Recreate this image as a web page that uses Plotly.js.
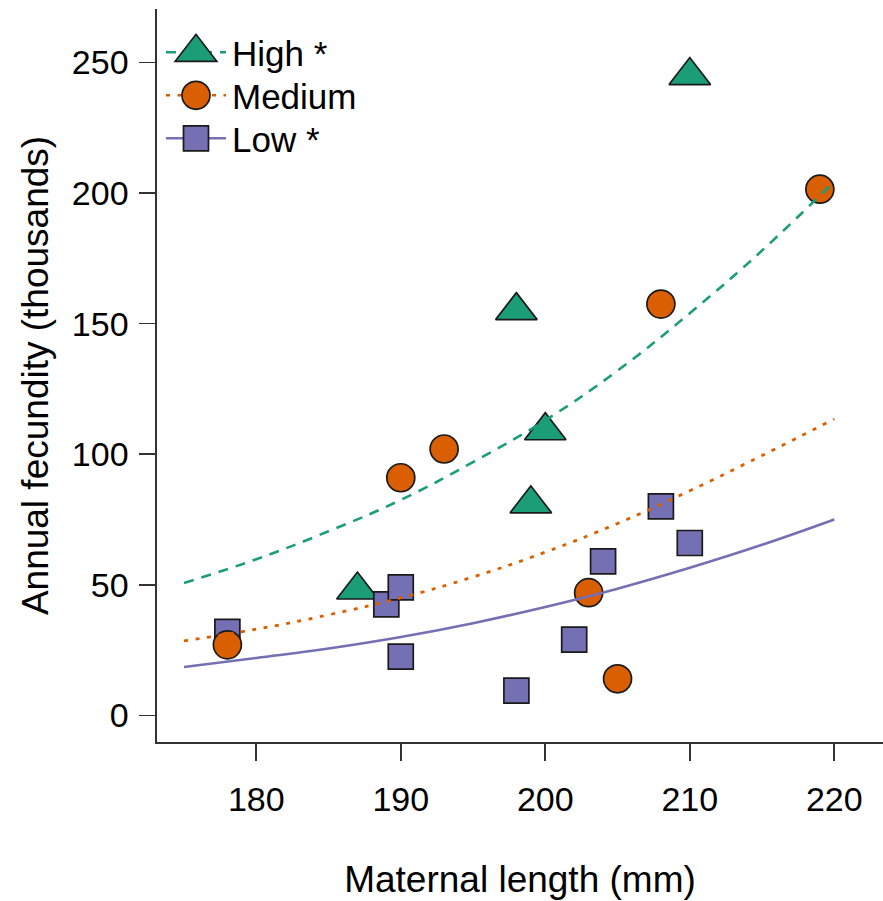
<!DOCTYPE html>
<html>
<head>
<meta charset="utf-8">
<script src="https://cdn.plot.ly/plotly-3.0.1.min.js"></script>
<style>
  html, body { margin: 0; padding: 0; background: #ffffff; }
  #chart { width: 883px; height: 901px; }
</style>
</head>
<body>
<div id="chart"></div>
<script>
// ---- data ----
var groupNames = ["High *", "Medium", "Low *"];

var highX = [187, 198, 199, 200, 210];
var highY = [48, 155, 81, 109, 245];

var medX = [178, 190, 193, 203, 205, 208, 219];
var medY = [27, 91, 102, 47, 14, 157.5, 201.5];

var lowX = [178, 189, 190, 190, 198, 202, 204, 208, 210];
var lowY = [32, 42.5, 49, 22.5, 9.5, 29, 59, 80, 66];

// fitted curves, every 5 mm
var curveX = [175, 180, 185, 190, 195, 200, 205, 210, 215, 220];
var highFit = [50.7, 59.8, 70.5, 82.5, 97, 113, 132, 154, 178, 204.5];
var medFit = [28.5, 33, 38.5, 45, 53, 62.5, 73.5, 86, 99.5, 113.5];
var lowFit = [18.5, 22, 25.6, 30, 35.3, 41.5, 48.5, 56.5, 65.3, 75];

var xTicks = [180, 190, 200, 210, 220];
var yTicks = [0, 50, 100, 150, 200, 250];

// ---- styles ----
var cHigh = "#1b9e77", cMed = "#d95f02", cLow = "#7570b3";
var edge = {color: "#1a1a1a", width: 1.7};
var sizeTri = 36, sizeCirc = 28, sizeSq = 25;
var FONT = "Liberation Sans, Arial, sans-serif";

var traces = [
  // legend-only entries (line + marker)
  {x: [null], y: [null], type: "scatter", mode: "lines+markers", name: groupNames[0],
   line: {color: cHigh, width: 2.5, dash: "10px,8px"},
   marker: {symbol: "triangle-up", size: 16, color: cHigh, line: edge}},
  {x: [null], y: [null], type: "scatter", mode: "lines+markers", name: groupNames[1],
   line: {color: cMed, width: 2.5, dash: "4px,7.5px"},
   marker: {symbol: "circle", size: 16, color: cMed, line: edge}},
  {x: [null], y: [null], type: "scatter", mode: "lines+markers", name: groupNames[2],
   line: {color: cLow, width: 2.5},
   marker: {symbol: "square", size: 16, color: cLow, line: edge}},
  // points
  {x: highX, y: highY, type: "scatter", mode: "markers", showlegend: false, cliponaxis: false,
   marker: {symbol: "triangle-up", size: sizeTri, color: cHigh, line: edge}},
  {x: lowX, y: lowY, type: "scatter", mode: "markers", showlegend: false, cliponaxis: false,
   marker: {symbol: "square", size: sizeSq, color: cLow, line: edge}},
  {x: medX, y: medY, type: "scatter", mode: "markers", showlegend: false, cliponaxis: false,
   marker: {symbol: "circle", size: sizeCirc, color: cMed, line: edge}},
  // fitted curves
  {x: curveX, y: lowFit, type: "scatter", mode: "lines", showlegend: false,
   line: {color: cLow, width: 2.6, shape: "spline", smoothing: 1.2}},
  {x: curveX, y: medFit, type: "scatter", mode: "lines", showlegend: false,
   line: {color: cMed, width: 2.8, dash: "4px,7.5px", shape: "spline", smoothing: 1.2}},
  {x: curveX, y: highFit, type: "scatter", mode: "lines", showlegend: false,
   line: {color: cHigh, width: 2.6, dash: "10px,8px", shape: "spline", smoothing: 1.2}}
];

var layout = {
  width: 883, height: 901,
  margin: {l: 157, r: 0, t: 9, b: 159, pad: 0},
  paper_bgcolor: "#ffffff", plot_bgcolor: "#ffffff",
  font: {family: FONT, color: "#000000"},
  showlegend: true,
  legend: {x: 0.0055, y: 0.9863, xanchor: "left", yanchor: "top", bgcolor: "rgba(0,0,0,0)",
           font: {family: FONT, size: 35, color: "#000"}, itemwidth: 61,
           tracegroupgap: 0, borderwidth: 0},
  xaxis: {
    range: [173.13, 223.37], showgrid: false, zeroline: false,
    showline: true, linecolor: "#333333", linewidth: 1.6,
    ticks: "outside", ticklen: 17, tickwidth: 1.6, tickcolor: "#333333",
    tickmode: "array", tickvals: xTicks, ticktext: xTicks.map(String),
    tickfont: {family: FONT, size: 34}, ticklabelstandoff: 10,
    title: {text: "Maternal length (mm)", font: {family: FONT, size: 37}, standoff: 48}
  },
  yaxis: {
    range: [-10.2, 270.5], showgrid: false, zeroline: false,
    showline: true, linecolor: "#333333", linewidth: 1.6,
    ticks: "outside", ticklen: 16, tickwidth: 1.6, tickcolor: "#333333",
    tickmode: "array", tickvals: yTicks, ticktext: yTicks.map(String),
    tickfont: {family: FONT, size: 34}, ticklabelstandoff: 4,
    title: {text: "Annual fecundity (thousands)", font: {family: FONT, size: 37}, standoff: 12}
  }
};

var symScale = [sizeTri / 16, sizeCirc / 16, sizeSq / 16];
var legendRowGap = 43;

Plotly.newPlot("chart", traces, layout, {staticPlot: true, displayModeBar: false}).then(function (gd) {
  var items = gd.querySelectorAll(".legend .traces");
  var x0 = null, y0 = null;
  items.forEach(function (item, i) {
    var tr = item.getAttribute("transform") || "";
    var m = tr.match(/translate\(\s*([-\d.]+)[ ,]+([-\d.]+)\s*\)/);
    if (m) {
      if (i === 0) { x0 = parseFloat(m[1]); y0 = parseFloat(m[2]) + 4; }
      item.setAttribute("transform", "translate(" + x0 + "," + (y0 + i * legendRowGap) + ")");
    }
    var ln = item.querySelector(".legendlines path");
    if (ln) ln.setAttribute("d", "M5,0h60");
    var pt = item.querySelector(".legendpoints path.scatterpts");
    if (pt) {
      pt.setAttribute("transform", "translate(35,0) scale(" + symScale[i] + ")");
      pt.setAttribute("vector-effect", "non-scaling-stroke");
      pt.style.strokeWidth = "1.7px";
    }
  });
});
</script>
</body>
</html>
